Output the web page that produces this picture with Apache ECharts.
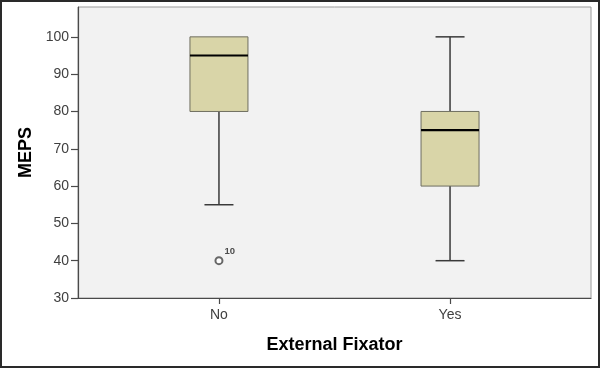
<!DOCTYPE html>
<html>
<head>
<meta charset="utf-8">
<script src="https://cdn.jsdelivr.net/npm/echarts@6/dist/echarts.min.js"></script>
<style>
html,body{margin:0;padding:0;background:#fff;}
#wrap{position:relative;width:600px;height:368px;}
#chart{position:absolute;left:0;top:0;width:600px;height:368px;}
#frame{position:absolute;left:0;top:0;width:600px;height:368px;box-sizing:border-box;border:2px solid #2a2a2a;pointer-events:none;}
</style>
</head>
<body>
<div id="wrap"><div id="chart"></div><div id="frame"></div></div>
<script>
// Data
const categories = ['No', 'Yes'];
// [min, Q1, median, Q3, max]
const boxStats = [
  [55, 80, 95, 100, 100],
  [40, 60, 75, 80, 100]
];
const outlierCategory = [0];
const outlierValues = [40];
const outlierLabels = ['10'];
const yTicks = [30, 40, 50, 60, 70, 80, 90, 100];

const chart = echarts.init(document.getElementById('chart'));

const boxData = boxStats.map((s, i) => [i].concat(s));
const outlierData = outlierValues.map((v, i) => ({value: [outlierCategory[i], v], name: outlierLabels[i]}));

const textColor = '#404040';
const axisColor = '#4a4a4a';
const FONT = 'Arial, "Liberation Sans", sans-serif';

chart.setOption({
  animation: false,
  grid: {
    left: 78, right: 9, top: 7, bottom: 70,
    show: true, backgroundColor: '#f2f2f2', borderColor: '#9a9a9a', borderWidth: 1
  },
  xAxis: {
    type: 'value',
    min: -0.61, max: 1.61,
    splitLine: {show: false},
    axisLine: {show: true, onZero: false, lineStyle: {color: axisColor, width: 1.2}},
    axisTick: {show: true, length: 6, customValues: categories.map((c, i) => i), lineStyle: {color: axisColor, width: 1.2}},
    axisLabel: {
      customValues: categories.map((c, i) => i),
      formatter: v => categories[Math.round(v)] || '',
      color: textColor, fontFamily: FONT, fontSize: 14, margin: 10
    },
    name: 'External Fixator', nameLocation: 'middle', nameGap: 38,
    nameTextStyle: {color: '#000', fontWeight: 'bold', fontSize: 18, fontFamily: FONT}
  },
  yAxis: {
    type: 'value',
    min: 30, max: 108,
    splitLine: {show: false},
    axisLine: {show: true, onZero: false, lineStyle: {color: axisColor, width: 1.2}},
    axisTick: {show: true, length: 7, customValues: yTicks, lineStyle: {color: axisColor, width: 1.2}},
    axisLabel: {
      customValues: yTicks,
      color: textColor, fontFamily: FONT, fontSize: 14, margin: 9
    },
    name: 'MEPS', nameLocation: 'middle', nameGap: 42,
    nameTextStyle: {color: '#000', fontWeight: 'bold', fontSize: 18, fontFamily: FONT}
  },
  series: [
    {
      type: 'custom',
      data: boxData,
      encode: {x: 0, y: [1, 2, 3, 4, 5]},
      renderItem: function (params, api) {
        const x = api.value(0);
        const vMin = api.value(1), q1 = api.value(2), med = api.value(3), q3 = api.value(4), vMax = api.value(5);
        const pMin = api.coord([x, vMin]);
        const pQ1 = api.coord([x, q1]);
        const pMed = api.coord([x, med]);
        const pQ3 = api.coord([x, q3]);
        const pMax = api.coord([x, vMax]);
        const cx = pQ1[0];
        const halfBox = 29;
        const halfCap = 14.5;
        const wStyle = {stroke: '#3a3a3a', lineWidth: 1.5};
        const children = [];
        if (pMax[1] < pQ3[1]) {
          children.push({type: 'line', shape: {x1: cx, y1: pQ3[1], x2: cx, y2: pMax[1]}, style: wStyle});
          children.push({type: 'line', shape: {x1: cx - halfCap, y1: pMax[1], x2: cx + halfCap, y2: pMax[1]}, style: wStyle});
        }
        if (pMin[1] > pQ1[1]) {
          children.push({type: 'line', shape: {x1: cx, y1: pQ1[1], x2: cx, y2: pMin[1]}, style: wStyle});
          children.push({type: 'line', shape: {x1: cx - halfCap, y1: pMin[1], x2: cx + halfCap, y2: pMin[1]}, style: wStyle});
        }
        children.push({
          type: 'rect',
          shape: {x: cx - halfBox, y: pQ3[1], width: halfBox * 2, height: pQ1[1] - pQ3[1]},
          style: {fill: '#d9d5a8', stroke: '#6e6e60', lineWidth: 1}
        });
        children.push({
          type: 'line',
          shape: {x1: cx - halfBox, y1: pMed[1], x2: cx + halfBox, y2: pMed[1]},
          style: {stroke: '#000', lineWidth: 2.2}
        });
        return {type: 'group', children: children};
      },
      z: 3
    },
    {
      type: 'scatter',
      data: outlierData,
      symbol: 'emptyCircle',
      symbolSize: 7,
      itemStyle: {color: '#444', borderWidth: 1.3},
      label: {
        show: true, formatter: p => p.name, position: 'right',
        offset: [-4, -9], color: '#222', fontSize: 9.5, fontWeight: 'bold', fontFamily: FONT
      },
      z: 4
    }
  ]
});
</script>
</body>
</html>
